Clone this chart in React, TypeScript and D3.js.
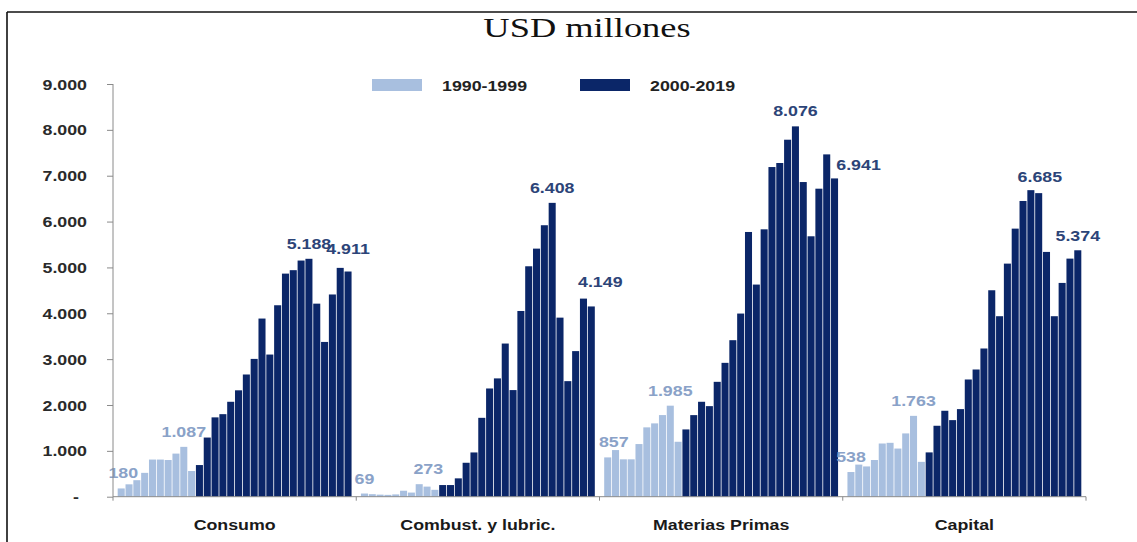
import React, { useEffect, useRef } from 'react';
import * as d3 from 'd3';

// Importaciones por uso económico, USD millones
const categories = ['Consumo', 'Combust. y lubric.', 'Materias Primas', 'Capital'];
const series = ['1990-1999', '2000-2019'];

const years90 = ['1990', '1991', '1992', '1993', '1994', '1995', '1996', '1997', '1998', '1999'];
const years00 = [
  '2000', '2001', '2002', '2003', '2004', '2005', '2006', '2007', '2008', '2009',
  '2010', '2011', '2012', '2013', '2014', '2015', '2016', '2017', '2018', '2019'
];

const consumo90 = [180, 270, 360, 520, 810, 810, 800, 940, 1087, 560];
const consumo00 = [690, 1290, 1730, 1800, 2070, 2320, 2665, 3005, 3885, 3100, 4175, 4865, 4940, 5150, 5188, 4210, 3375, 4410, 4990, 4911];

const combust90 = [69, 55, 45, 40, 50, 130, 90, 273, 220, 150];
const combust00 = [254, 254, 400, 740, 965, 1720, 2360, 2580, 3340, 2325, 4050, 5025, 5410, 5920, 6408, 3905, 2520, 3175, 4320, 4149];

const materias90 = [857, 1017, 815, 815, 1148, 1512, 1599, 1780, 1985, 1198];
const materias00 = [1467, 1779, 2070, 1975, 2505, 2919, 3413, 3994, 5773, 4626, 5831, 7189, 7277, 7785, 8076, 6862, 5679, 6717, 7465, 6941];

const capital90 = [538, 700, 660, 800, 1160, 1175, 1050, 1380, 1763, 760];
const capital00 = [966, 1547, 1874, 1670, 1910, 2556, 2774, 3232, 4502, 3936, 5083, 5846, 6449, 6685, 6620, 5338, 3936, 4662, 5192, 5374];

const yTicks = [0, 1000, 2000, 3000, 4000, 5000, 6000, 7000, 8000, 9000];

const values90 = [consumo90, combust90, materias90, capital90];
const values00 = [consumo00, combust00, materias00, capital00];

// small hand nudges for the value labels (dx, dy from bar top)
const labelNudge: Record<string, [number, number]> = {
  'Consumo-first': [2, -10],
  'Consumo-last': [0, -18],
  'Combust. y lubric.-max90': [9, -10],
  'Combust. y lubric.-last': [9, -19],
  'Materias Primas-first': [6, -10],
  'Materias Primas-last': [24, -8],
  'Capital-max00': [9, -8],
  'Capital-last': [0, -9]
};

const W = 1137;
const H = 542;
const SX = 1.27; // the source picture is stretched horizontally
const LIGHT = '#a8bfdf';
const DARK = '#0b2668';
const LIGHT_TXT = '#8aa2c8';
const DARK_TXT = '#2c4478';
const SANS = 'Arial, "Liberation Sans", sans-serif';

const fmt = d3.formatLocale({ decimal: ',', thousands: '.', grouping: [3], currency: ['', ''] }).format(',d');

export default function App() {
  const svgRef = useRef<SVGSVGElement>(null);

  useEffect(() => {
    if (!svgRef.current) return;
    const svg = d3.select(svgRef.current);
    svg.selectAll('*').remove();

    const y = d3.scaleLinear().domain([0, 9000]).range([496.7, 84]);
    const x0 = d3.scaleBand().domain(categories).range([113, 1086]);
    const allYears = [...years90, ...years00];
    const x1 = d3.scaleBand().domain(allYears).range([0, x0.bandwidth()]).paddingInner(0.1).paddingOuter(0.6);

    const text = (g: any, x: number, yy: number, s: string, opts: any = {}) =>
      g.append('text')
        .attr('transform', `translate(${x},${yy}) scale(${opts.sx ?? SX},1)`)
        .attr('text-anchor', opts.anchor ?? 'middle')
        .style('font-family', opts.family ?? SANS)
        .style('font-size', `${opts.size ?? 14}px`)
        .style('font-weight', opts.weight ?? 'bold')
        .style('fill', opts.fill ?? '#222')
        .text(s);

    // frame
    svg.append('line').attr('x1', 7).attr('x2', W).attr('y1', 12).attr('y2', 12).attr('stroke', '#111').attr('stroke-width', 1.6);
    svg.append('line').attr('x1', 7).attr('x2', 7).attr('y1', 12).attr('y2', H).attr('stroke', '#111').attr('stroke-width', 1.6);

    // title
    text(svg, 587, 37, 'USD millones', { family: '"Times New Roman", "Liberation Serif", serif', size: 28, weight: 'normal', sx: 1.3, fill: '#111' });

    // legend
    const legend = [
      { name: series[0], color: LIGHT, x: 372 },
      { name: series[1], color: DARK, x: 580 }
    ];
    legend.forEach(l => {
      svg.append('rect').attr('x', l.x).attr('y', 79).attr('width', 50).attr('height', 12).attr('fill', l.color);
      text(svg, l.x + 70, 91, l.name, { anchor: 'start', fill: '#222' });
    });

    // bars
    categories.forEach((cat, ci) => {
      const gx = x0(cat) || 0;
      const g = svg.append('g').attr('transform', `translate(${gx},0)`);
      const rows = [
        ...values90[ci].map((v, i) => ({ year: years90[i], v, light: true })),
        ...values00[ci].map((v, i) => ({ year: years00[i], v, light: false }))
      ];
      g.selectAll('rect')
        .data(rows)
        .enter()
        .append('rect')
        .attr('x', d => x1(d.year) || 0)
        .attr('y', d => y(d.v))
        .attr('width', x1.bandwidth())
        .attr('height', d => y(0) - y(d.v))
        .attr('fill', d => (d.light ? LIGHT : DARK));

      // value labels: first and max of the 90s, max and last of 2000-2019
      const v90 = values90[ci];
      const v00 = values00[ci];
      const i90 = d3.maxIndex(v90);
      const i00 = d3.maxIndex(v00);
      const labels = [
        { key: 'first', year: years90[0], v: v90[0], light: true },
        { key: 'max90', year: years90[i90], v: v90[i90], light: true },
        { key: 'max00', year: years00[i00], v: v00[i00], light: false },
        { key: 'last', year: years00[v00.length - 1], v: v00[v00.length - 1], light: false }
      ];
      labels.forEach(l => {
        const [dx, dy] = labelNudge[`${cat}-${l.key}`] ?? [0, -10];
        const cx = (x1(l.year) || 0) + x1.bandwidth() / 2 + dx;
        text(g, cx, y(l.v) + dy, fmt(l.v), { fill: l.light ? LIGHT_TXT : DARK_TXT });
      });

      // category label
      text(svg, gx + x0.bandwidth() / 2, 530, cat, { fill: '#1a1a1a' });
    });

    // y axis
    const yAxis = svg.append('g')
      .attr('transform', 'translate(113,0)')
      .call(d3.axisLeft(y).tickValues(yTicks).tickSize(6).tickPadding(14.5).tickFormat(d => (+d === 0 ? '-' : fmt(+d))));
    yAxis.select('.domain').attr('stroke', '#8a8a8a').attr('d', `M-0,${y(9000)}V${y(0)}`);
    yAxis.selectAll('.tick line').attr('stroke', '#8a8a8a');
    yAxis.selectAll('.tick text')
      .attr('transform', `scale(${SX},1)`)
      .attr('x', (d: any) => (+d === 0 ? -34 / SX : -26 / SX))
      .attr('dy', '0.36em')
      .style('font-family', SANS)
      .style('font-size', '14px')
      .style('font-weight', 'bold')
      .style('fill', '#2a2a2a');

    // x axis with ticks at group boundaries
    const bounds = [...categories.map(c => x0(c) || 0), 1086];
    svg.append('line').attr('x1', 113).attr('x2', 1086).attr('y1', y(0)).attr('y2', y(0)).attr('stroke', '#8a8a8a');
    svg.selectAll('.xtick')
      .data(bounds)
      .enter()
      .append('line')
      .attr('class', 'xtick')
      .attr('x1', d => d)
      .attr('x2', d => d)
      .attr('y1', y(0))
      .attr('y2', y(0) + 4)
      .attr('stroke', '#8a8a8a');
  }, []);

  return (
    <svg
      ref={svgRef}
      width={W}
      height={H}
      style={{ position: 'absolute', left: 0, top: 0, background: '#fff' }}
      role="img"
      aria-label="USD millones"
    />
  );
}
